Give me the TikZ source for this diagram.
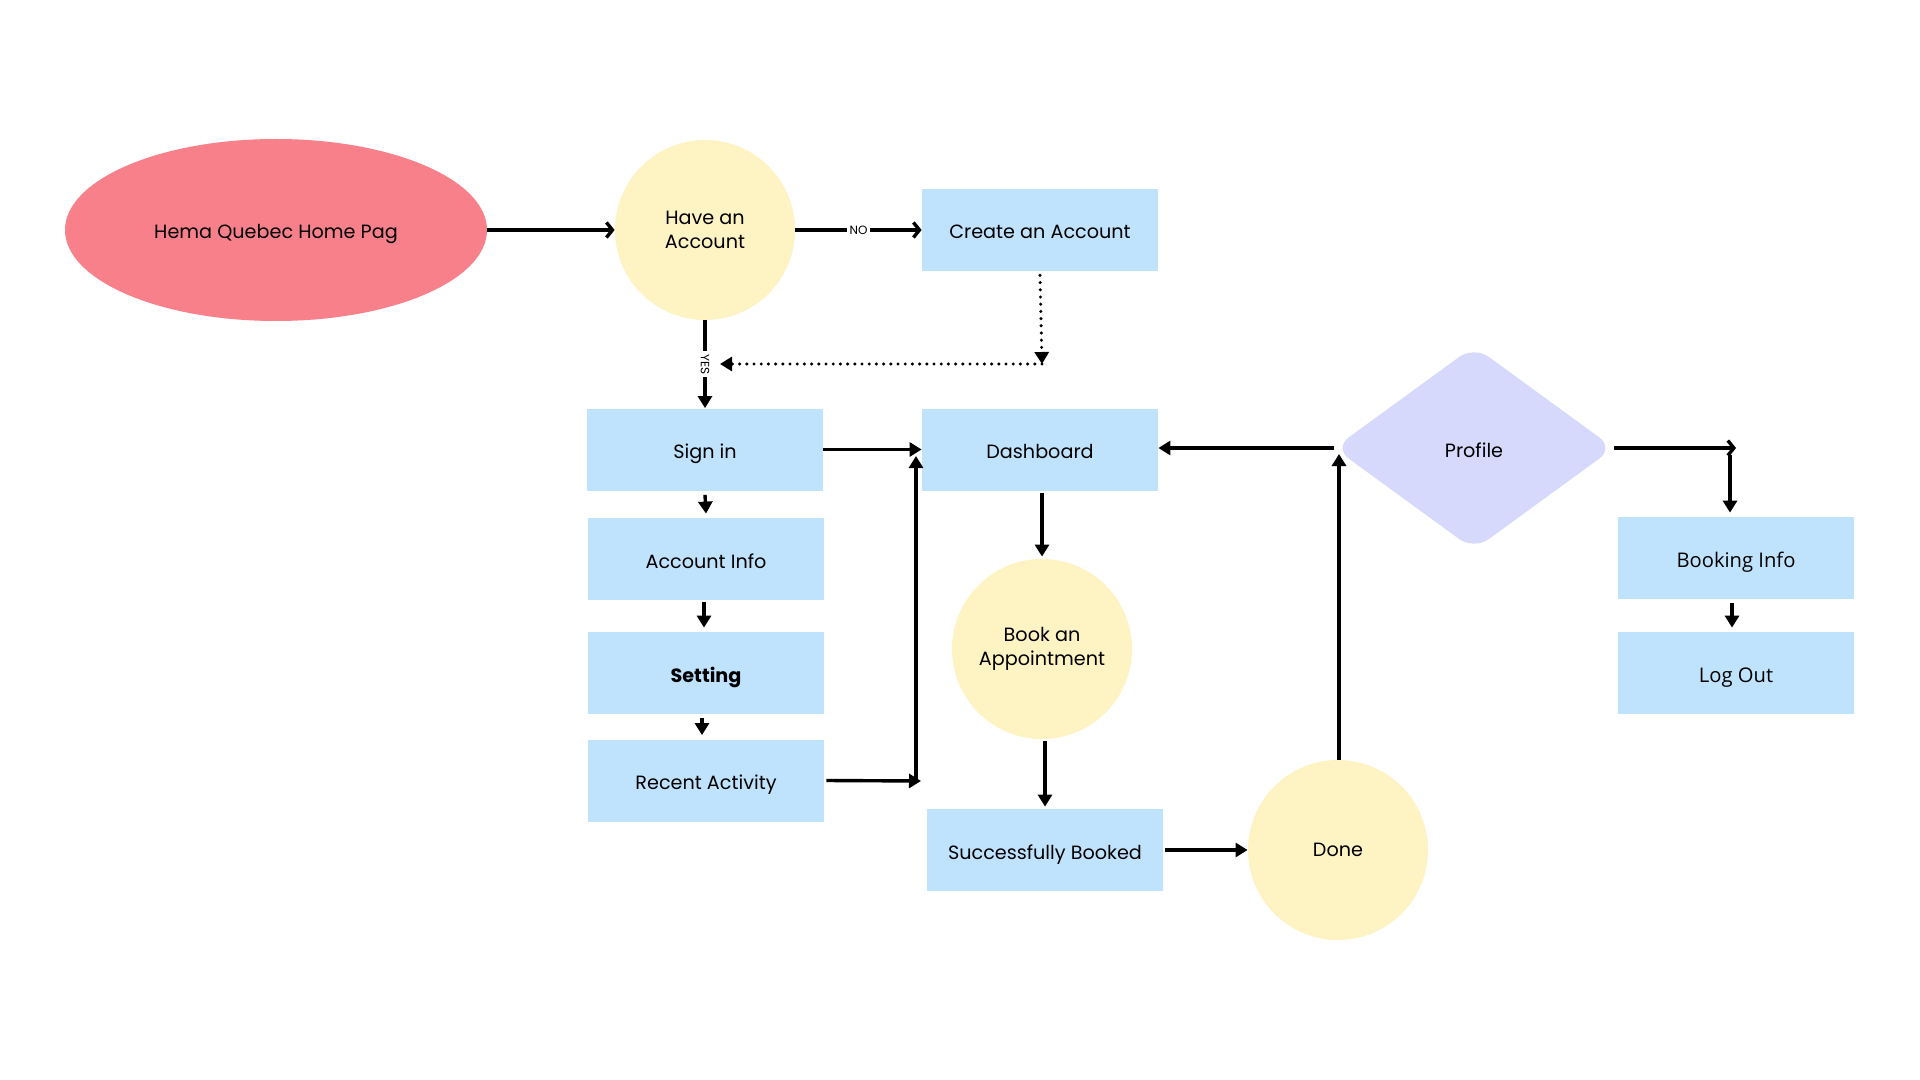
\documentclass[tikz,border=0pt]{standalone}
\usepackage{fontspec}
\setmainfont{Poppins}
\newfontfamily\opensans{Open Sans}
\usetikzlibrary{shapes.geometric,arrows.meta}
\definecolor{pinkfill}{HTML}{F8808A}
\definecolor{yelfill}{HTML}{FEF3C3}
\definecolor{bluefill}{HTML}{BFE3FD}
\definecolor{lavfill}{HTML}{D7D9FC}
\tikzset{
  txt/.style={font=\fontsize{9.6}{12.2}\selectfont, text=black, align=center},
  oneline/.style={text height=9pt, text depth=0pt},
  box/.style={rectangle, fill=bluefill, minimum width=118pt, minimum height=41pt, inner sep=0pt, txt, oneline},
  circ/.style={circle, fill=yelfill, minimum size=90pt, inner sep=0pt, txt},
  arr/.style={line width=1.7pt, -{Triangle[length=6pt,width=7pt]}},
  barb/.style={line width=1.7pt, -{Straight Barb[length=3pt,width=7.5pt,line width=1.7pt]}},
  dotline/.style={line width=1.7pt, dash pattern=on 0pt off 3.6pt, line cap=round, -{Triangle[length=6pt,width=7pt]}},
  lbl/.style={fill=white, inner sep=1.5pt, font=\fontsize{6}{7}\selectfont}
}
\begin{document}
\begin{tikzpicture}[x=0.5pt,y=-0.5pt]
\fill[white] (0,0) rectangle (1920,1080);
\useasboundingbox (0,0) rectangle (1920,1080);

% nodes
\node[ellipse, fill=pinkfill, minimum width=211pt, minimum height=91pt, inner sep=0pt, txt, oneline] (home) at (276,230) {Hema Quebec Home Pag};
\node[circ] (have) at (705,230) {Have an\\Account};
\node[box] (create) at (1040,230) {Create an Account};
\node[box] (signin) at (705,449.5) {Sign in};
\node[box] (accinfo) at (706,559) {Account Info};
\node[box] (setting) at (706,673) {\bfseries Setting};
\node[box] (recent) at (706,780.5) {Recent Activity};
\node[box] (dash) at (1040,449.5) {Dashboard};
\node[circ] (book) at (1042,649) {Book an\\Appointment};
\node[box] (sb) at (1045,850) {Successfully Booked};
\node[circ] (done) at (1338,850) {Done};
\node[diamond, fill=lavfill, minimum width=140pt, minimum height=102pt, inner sep=0pt, rounded corners=9pt, txt, oneline] (profile) at (1474,448) {Profile};
\node[box, font=\opensans\fontsize{10.1}{12}\selectfont] (booking) at (1736,558) {Booking Info};
\node[box, font=\opensans\fontsize{10.1}{12}\selectfont] (logout) at (1736,673) {Log Out};

% helper coordinates
\coordinate (c1) at (1042,364);
\coordinate (c2) at (720,364);
\coordinate (r1) at (921,781);
\coordinate (r2) at (916,781);
\coordinate (r3) at (916,456);
\coordinate (d1) at (1339,454);
\coordinate (p1) at (1736,448);
\coordinate (p2) at (1730,455);

% connectors
\draw[barb] (home.east) -- (have.west);
\draw[barb] (have.east) -- node[lbl] (no) {NO} (create.west);
\draw[arr] (have.south) -- node[lbl, rotate=-90] (yes) {YES} (signin.north);
\draw[dotline] (create.south) ++(0,4) -- (c1);
\draw[dotline] (c1) -- (c2);
\draw[arr] (signin.east) -- (dash.west);
\draw[arr] ([yshift=-2pt]signin.south) -- ([yshift=2pt]accinfo.north);
\draw[arr] ([xshift=-1pt,yshift=-1pt]accinfo.south) -- ([xshift=-1pt,yshift=2pt]setting.north);
\draw[arr] ([xshift=-2pt,yshift=-2pt]setting.south) -- ([xshift=-2pt,yshift=2pt]recent.north);
\draw[arr] ([xshift=1pt]recent.east) -- (r1);
\draw[arr] (r2) -- (r3);
\draw[arr] ([yshift=-1pt]book.north |- dash.south) -- ([yshift=1pt]book.north);
\draw[arr] ([yshift=-1pt]sb.north |- book.south) -- ([yshift=1pt]sb.north);
\draw[arr] ([xshift=1pt]sb.east) -- (done.west);
\draw[arr] (d1 |- done.north) -- (d1);
\draw[arr] (profile.west) -- (profile.west -| dash.east);
\draw[barb] (profile.east) -- (p1);
\draw[arr] (p2) -- ([yshift=2pt]p2 |- booking.north);
\draw[arr] ([xshift=-2pt,yshift=-2pt]booking.south) -- ([xshift=-2pt,yshift=2pt]logout.north);
\end{tikzpicture}
\end{document}
